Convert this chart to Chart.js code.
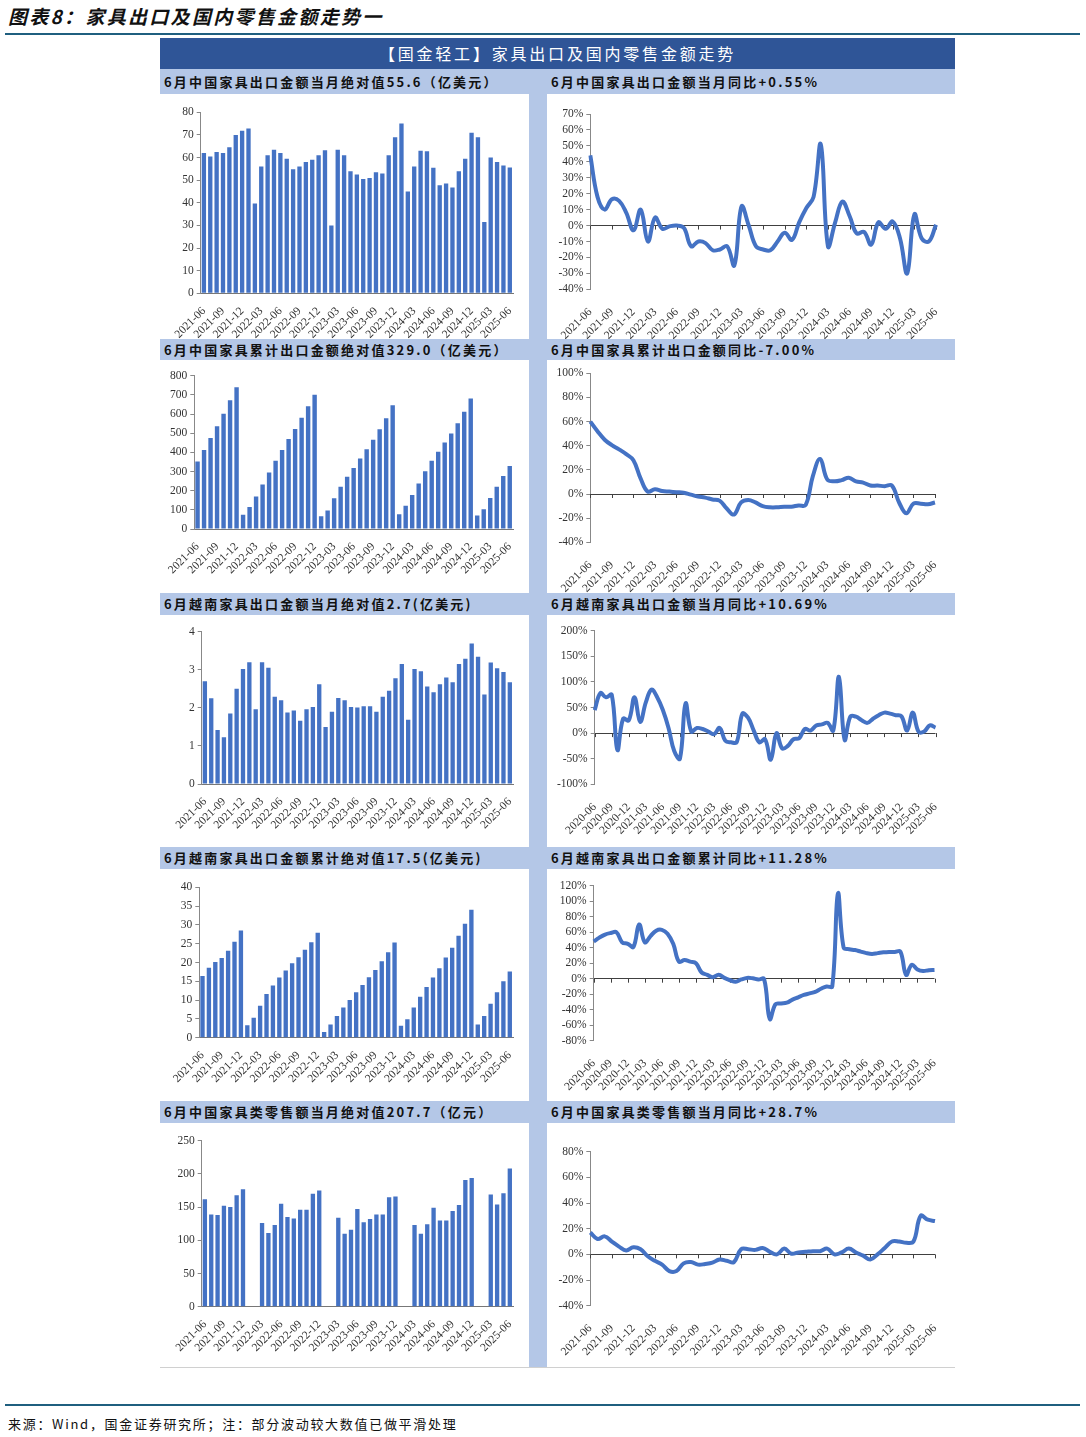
<!DOCTYPE html>
<html>
<head>
<meta charset="utf-8">
<script src="https://cdn.jsdelivr.net/npm/chart.js@4.4.1/dist/chart.umd.min.js"></script>
<style>
  body { margin: 0; width: 1086px; height: 1437px; background: #fff; position: relative; font-family: "Noto Sans CJK SC", sans-serif; overflow: hidden; }
  .abs { position: absolute; }
  #title { left: 8px; top: 2px; font-size: 19px; font-weight: bold; font-style: italic; letter-spacing: 2.3px; color: #111; white-space: nowrap; }
  .rule { left: 5px; width: 1075px; height: 2px; background: #1f5f7f; }
  #head { left: 160px; top: 38px; width: 795px; height: 31px; background: #2f5597; color: #fff; font-size: 16px; text-align: center; line-height: 31px; letter-spacing: 2.8px; }
  .sub { left: 160px; width: 795px; background: #b4c7e7; }
  .subt { font-size: 13px; font-weight: bold; letter-spacing: 2.2px; color: #111; white-space: nowrap; }
  #strip { left: 529px; top: 94px; width: 18px; height: 1273px; background: #b4c7e7; }
  #bottom { left: 160px; top: 1367px; width: 795px; height: 1px; background: #d0d0d0; }
  #foot { left: 8px; top: 1414px; font-size: 13px; letter-spacing: 1.7px; color: #111; white-space: nowrap; }
</style>
</head>
<body>
<div id="title" class="abs">图表8：家具出口及国内零售金额走势一</div>
<div class="abs rule" style="top:33px"></div>
<div id="head" class="abs">【国金轻工】家具出口及国内零售金额走势</div>
<div id="strip" class="abs"></div>
<div id="bottom" class="abs"></div>
<div class="abs rule" style="top:1404px"></div>
<div id="foot" class="abs">来源：Wind，国金证券研究所；注：部分波动较大数值已做平滑处理</div>

<script>
// 月份标签 2020-06 ~ 2025-06
const months = [
  '2020-06','2020-07','2020-08','2020-09','2020-10','2020-11','2020-12',
  '2021-01','2021-02','2021-03','2021-04','2021-05','2021-06','2021-07','2021-08','2021-09','2021-10','2021-11','2021-12',
  '2022-01','2022-02','2022-03','2022-04','2022-05','2022-06','2022-07','2022-08','2022-09','2022-10','2022-11','2022-12',
  '2023-01','2023-02','2023-03','2023-04','2023-05','2023-06','2023-07','2023-08','2023-09','2023-10','2023-11','2023-12',
  '2024-01','2024-02','2024-03','2024-04','2024-05','2024-06','2024-07','2024-08','2024-09','2024-10','2024-11','2024-12',
  '2025-01','2025-02','2025-03','2025-04','2025-05','2025-06'
];
const months21 = months.slice(12); // 2021-06 起

// 中国家具出口（亿美元）
const cnExportMonthly = [62,60.5,62.5,62,64.5,70,71.8,72.8,39.7,56,61,63.5,62,59.5,54.8,56,58,59,61,63.2,30,63.5,61,54,52.5,50.5,51,53.5,53,61,69,75,45,56,63,62.8,55.5,47.8,48.5,46.8,54,59.5,71,69,31.5,60,58,56.5,55.6];
const cnExportMonthlyYoy = [44,18,10,16.5,15.5,8,-3,10,-10,5,-2,-0.5,0,-1.5,-13,-10,-11,-15.5,-15,-13,-25,12,0,-13,-15,-15.5,-10,-4.5,-9,2,11,18,51,-13,2,15,6,-5,-4,-12,2,-2,2.5,-8,-30,7,-8,-10,0.55];
const cnExportCum = [352,412,475,536,602,672,740,74,115,170,232,295,356,412,470,522,580,640,700,66,96,160,220,273,318,368,416,466,520,578,646,77,121,178,238,302,356,403,451,499,552,612,681,70,103,162,220,276,329];
const cnExportCumYoy = [60,52,45,40.5,37,33,28,13,2,4,2.5,2,1.5,1,-0.5,-2,-3,-4.5,-5.5,-12,-17,-7,-5,-7,-10,-11,-11,-10.5,-10.5,-9.5,-9,15,29,12,10.5,11.5,13.5,10.5,9.5,7,7,6.5,7,-7,-16,-8,-8,-8.5,-7];

// 越南家具出口（亿美元）
const vnExportMonthly = [2.7,2.25,1.42,1.23,1.85,2.5,3.02,3.2,1.96,3.2,3.05,2.29,2.2,1.88,1.93,1.66,1.96,2.02,2.62,1.5,1.9,2.26,2.2,2.02,2.01,2.04,2.04,1.9,2.29,2.45,2.78,3.15,1.69,3.02,2.96,2.56,2.41,2.62,2.8,2.67,3.15,3.29,3.69,3.34,2.35,3.19,3.04,2.94,2.67];
const vnExportMonthlyYoy = [45,78,70,75,-33,28,25,70,22,60,85,70,45,10,-35,-50,58,3,10,8,3,-2,10,-15,-18,-18,38,30,5,-18,-12,-52,0,-30,-25,-12,-10,8,5,15,17,20,5,110,-13,32,32,25,20,28,35,40,38,35,33,5,40,3,3,15,10.7];
const vnExportCum = [16.4,18.6,20.1,21.2,23.1,25.5,28.5,3.3,5.3,8.5,11.6,13.9,16,17.9,19.8,21.4,23.4,25.4,27.9,1.5,3.5,5.8,8,10,12.1,14,16.1,18,20.3,22.7,25.3,3.2,4.9,8,10.9,13.5,16,18.5,21.3,23.9,27.1,30.3,34,3.5,5.8,9,12.1,15,17.6];
const vnExportCumYoy = [48,53,57,59,60,47,45,41,70,47,55,62,63,58,45,22,24,22,20,8,5,2,5,1,-2,-4,-1,1,0.5,-1,-0.5,-52,-33,-32,-31,-27,-24,-21,-19,-17,-13,-10,-10,110,40,38,37,35,33,32,33,34,34.5,34.5,35,5,18,12,10,11,11.3];

// 中国家具类零售额（亿元），1-2月无单月数据
const retailMonthly = [162,139,138,152,150,168,177,null,null,126,111,123,155,135,133,146,146,170,175,null,null,134,110,116,147,127,132,139,139,165,166,null,null,123,110,124,149,130,130,144,153,191,194,null,null,169,154,171,208];
const retailYoy = [17,12,14,10,6,3,5.5,4,-1.5,-5,-8,-13,-13,-7,-6,-8,-7.5,-6.5,-4,-5,-6,4,4,3.5,5,2,0,4.5,0.5,1.5,2,2.5,2.5,4.5,0,1.5,4.5,1.5,-1,-4,0,5,10,10,9,10,30,27,26];

// 小标题
const leftTitles = [
  '6月中国家具出口金额当月绝对值55.6（亿美元）',
  '6月中国家具累计出口金额绝对值329.0（亿美元）',
  '6月越南家具出口金额当月绝对值2.7(亿美元)',
  '6月越南家具出口金额累计绝对值17.5(亿美元)',
  '6月中国家具类零售额当月绝对值207.7（亿元）'
];
const rightTitles = [
  '6月中国家具出口金额当月同比+0.55%',
  '6月中国家具累计出口金额同比-7.00%',
  '6月越南家具出口金额当月同比+10.69%',
  '6月越南家具出口金额累计同比+11.28%',
  '6月中国家具类零售额当月同比+28.7%'
];

const rows = [
  { sub: 69, subH: 25, top: 94, h: 245 },
  { sub: 339, subH: 21, top: 360, h: 233 },
  { sub: 593, subH: 22, top: 615, h: 232 },
  { sub: 847, subH: 22, top: 869, h: 232 },
  { sub: 1101, subH: 22, top: 1123, h: 244 }
];

rows.forEach((r, i) => {
  const bar = document.createElement('div');
  bar.className = 'abs sub';
  bar.style.top = r.sub + 'px';
  bar.style.height = r.subH + 'px';
  document.body.appendChild(bar);
  [[164, leftTitles[i]], [551, rightTitles[i]]].forEach(([x, t]) => {
    const d = document.createElement('div');
    d.className = 'abs subt';
    d.style.left = x + 'px';
    d.style.top = r.sub + 'px';
    d.style.lineHeight = r.subH + 'px';
    d.textContent = t;
    document.body.appendChild(d);
  });
});

const FONT = { family: '"Liberation Serif", "Times New Roman", serif', size: 11.5 };
const BLUE = '#4472C4';

// 折线图零轴上的刻度线
const zeroTicks = {
  id: 'zeroTicks',
  beforeDatasetsDraw(chart) {
    const { ctx, scales: { x, y } } = chart;
    const y0 = y.getPixelForValue(0);
    ctx.save();
    ctx.strokeStyle = '#404040';
    ctx.lineWidth = 1;
    for (let i = 0; i < chart.data.labels.length; i += 3) {
      const px = Math.round(x.getPixelForValue(i)) + 0.5;
      ctx.beginPath();
      ctx.moveTo(px, y0);
      ctx.lineTo(px, y0 + 4);
      ctx.stroke();
    }
    ctx.restore();
  }
};

function drawChart(box, g, type, labels, values, yr) {
  const c = document.createElement('canvas');
  c.width = box.w;
  c.height = box.h;
  c.style.cssText = `position:absolute;left:${box.x}px;top:${box.y}px;width:${box.w}px;height:${box.h}px;`;
  document.body.appendChild(c);
  const isLine = type === 'line';
  const ds = isLine
    ? { data: values, borderColor: BLUE, borderWidth: 4, pointRadius: 0, tension: 0.4, fill: false }
    : { data: values, backgroundColor: BLUE, categoryPercentage: 1, barPercentage: 0.68 };
  new Chart(c, {
    type: type,
    data: { labels: labels, datasets: [ds] },
    options: {
      responsive: false,
      animation: false,
      layout: { padding: { top: g.top - box.y, right: box.x + box.w - g.right, left: 0, bottom: 0 } },
      plugins: { legend: { display: false }, tooltip: { enabled: false } },
      scales: {
        x: {
          offset: !isLine,
          grid: { display: false },
          border: { display: !isLine, color: '#777' },
          ticks: {
            autoSkip: false, minRotation: 45, maxRotation: 45, font: FONT, color: '#333',
            padding: isLine ? 8 : 3,
            callback: (v, i) => (i % 3 === 0 ? labels[i] : '')
          },
          afterFit: s => { s.height = box.y + box.h - g.bottom; }
        },
        y: {
          min: yr[0], max: yr[1],
          ticks: { stepSize: yr[2], autoSkip: false, font: FONT, color: '#333', padding: 3,
                   callback: v => (isLine ? v + '%' : v) },
          grid: {
            drawOnChartArea: isLine,
            color: ctx => (ctx.tick && ctx.tick.value === 0 ? '#404040' : 'rgba(0,0,0,0)'),
            tickColor: '#888', tickLength: 4
          },
          border: { color: '#888' },
          afterFit: s => { s.width = g.axis - box.x; }
        }
      }
    },
    plugins: isLine ? [zeroTicks] : []
  });
}

const L = 162, LW = 366, R = 548, RW = 407;
const rb = i => rows[i];

drawChart({ x: L, y: rb(0).top, w: LW, h: rb(0).h }, { axis: 200.7, top: 112.3, bottom: 293.3, right: 513 }, 'bar', months21, cnExportMonthly, [0, 80, 10]);
drawChart({ x: R, y: rb(0).top, w: RW, h: rb(0).h }, { axis: 590.3, top: 114, bottom: 289.3, right: 936 }, 'line', months21, cnExportMonthlyYoy, [-40, 70, 10]);
drawChart({ x: L, y: rb(1).top, w: LW, h: rb(1).h }, { axis: 194.3, top: 375.7, bottom: 529, right: 513 }, 'bar', months21, cnExportCum, [0, 800, 100]);
drawChart({ x: R, y: rb(1).top, w: RW, h: rb(1).h }, { axis: 590.3, top: 373.3, bottom: 542.3, right: 935 }, 'line', months21, cnExportCumYoy, [-40, 100, 20]);
drawChart({ x: L, y: rb(2).top, w: LW, h: rb(2).h }, { axis: 201.7, top: 631.7, bottom: 784, right: 513 }, 'bar', months21, vnExportMonthly, [0, 4, 1]);
drawChart({ x: R, y: rb(2).top, w: RW, h: rb(2).h }, { axis: 594.7, top: 630.7, bottom: 784.3, right: 935.5 }, 'line', months, vnExportMonthlyYoy, [-100, 200, 50]);
drawChart({ x: L, y: rb(3).top, w: LW, h: rb(3).h }, { axis: 199.3, top: 887.3, bottom: 1037.7, right: 513 }, 'bar', months21, vnExportCum, [0, 40, 5]);
drawChart({ x: R, y: rb(3).top, w: RW, h: rb(3).h }, { axis: 593.7, top: 885.7, bottom: 1040.7, right: 934.5 }, 'line', months, vnExportCumYoy, [-80, 120, 20]);
drawChart({ x: L, y: rb(4).top, w: LW, h: rb(4).h }, { axis: 201.7, top: 1140.7, bottom: 1306.7, right: 513 }, 'bar', months21, retailMonthly, [0, 250, 50]);
drawChart({ x: R, y: rb(4).top, w: RW, h: rb(4).h }, { axis: 590.3, top: 1151.7, bottom: 1305.7, right: 935 }, 'line', months21, retailYoy, [-40, 80, 20]);
</script>
</body>
</html>
